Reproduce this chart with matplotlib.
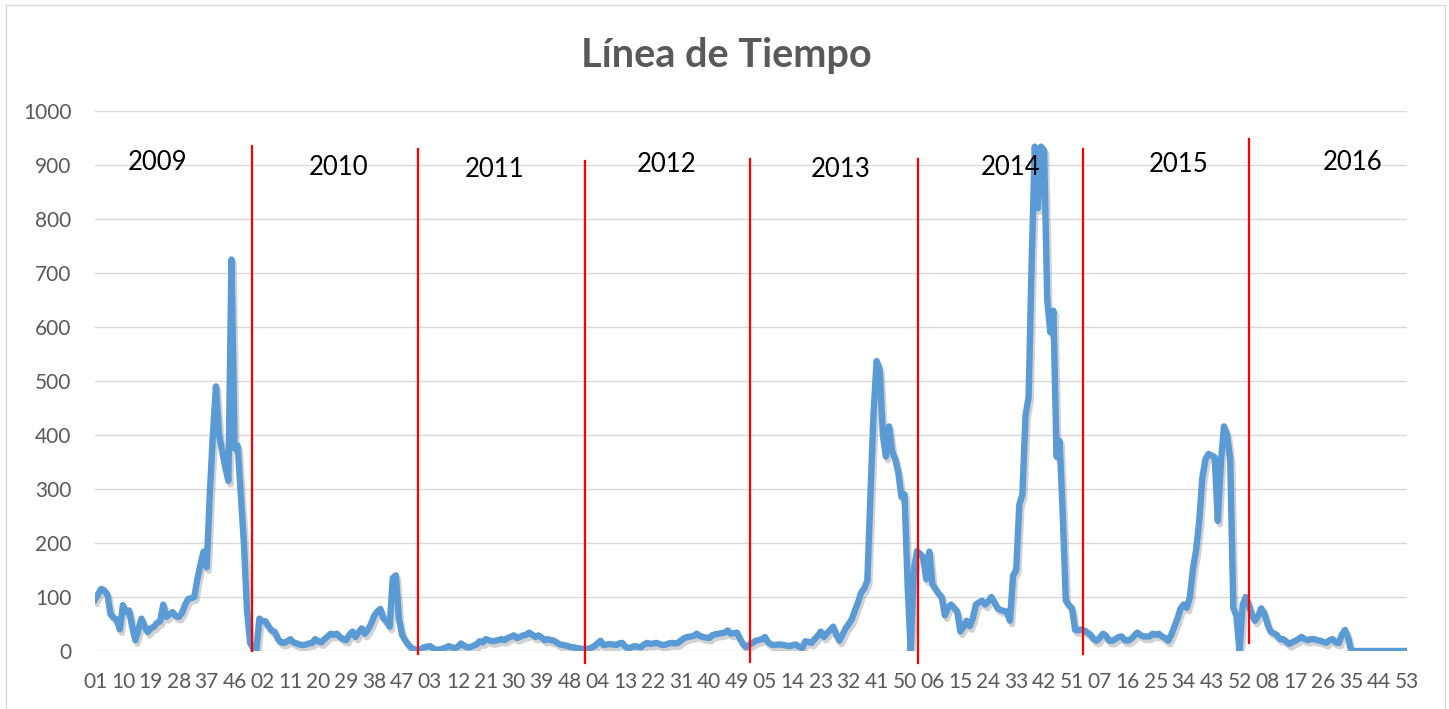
import numpy as np
import matplotlib
matplotlib.use("Agg")
import matplotlib.pyplot as plt
import matplotlib.patheffects as pe
from matplotlib.patches import Rectangle

# semanas epidemiologicas, 53 por anio
years = [2009, 2010, 2011, 2012, 2013, 2014, 2015, 2016]
weeks_per_year = 53

w2009 = [95, 105, 115, 112, 105, 68, 62, 58, 40, 85, 72, 75, 45, 20, 40, 60, 45, 35,
         42, 45, 52, 55, 86, 63, 68, 72, 65, 63, 70, 85, 96, 98, 100, 133, 160, 184,
         155, 290, 400, 490, 400, 370, 340, 315, 725, 375, 380, 290, 200, 75, 15, 5, 0]
w2010 = [60, 55, 55, 45, 38, 35, 22, 16, 15, 18, 22, 16, 14, 12, 11, 12, 14, 15, 22,
         18, 16, 22, 27, 32, 30, 32, 26, 22, 20, 30, 36, 26, 35, 42, 32, 40, 50, 65,
         73, 78, 60, 55, 45, 135, 140, 60, 30, 20, 12, 6, 3, 2, 3]
w2011 = [7, 8, 9, 5, 2, 3, 4, 6, 9, 7, 5, 8, 14, 10, 7, 7, 10, 12, 18, 16, 22, 20, 18,
         19, 20, 22, 20, 24, 26, 29, 24, 26, 29, 30, 34, 30, 26, 29, 25, 20, 22, 20,
         19, 15, 12, 11, 10, 8, 7, 6, 5, 4, 4]
w2012 = [4, 6, 9, 14, 19, 11, 12, 13, 12, 11, 14, 15, 8, 5, 7, 9, 8, 7, 12, 15, 13,
         14, 15, 13, 11, 12, 14, 15, 14, 15, 20, 24, 26, 27, 28, 32, 28, 26, 25, 24,
         29, 31, 32, 33, 34, 38, 32, 33, 34, 22, 12, 7, 12]
w2013 = [15, 19, 20, 22, 26, 16, 12, 11, 12, 12, 11, 10, 9, 11, 12, 8, 5, 18, 17, 15,
         22, 28, 36, 26, 33, 39, 45, 30, 19, 30, 42, 50, 59, 75, 90, 108, 116, 130,
         288, 440, 537, 520, 400, 360, 416, 370, 355, 330, 285, 290, 120, 0, 150]
w2014 = [185, 180, 174, 133, 184, 123, 115, 106, 100, 66, 80, 86, 80, 73, 36, 45, 56,
         46, 60, 86, 90, 93, 86, 92, 100, 90, 79, 76, 74, 73, 56, 140, 150, 271, 290,
         436, 470, 725, 934, 820, 934, 927, 650, 590, 630, 360, 389, 254, 93, 85, 79,
         39, 38]
w2015 = [40, 38, 34, 30, 22, 19, 25, 32, 28, 19, 19, 22, 26, 27, 20, 19, 22, 28, 34,
         30, 27, 27, 27, 32, 30, 32, 27, 24, 19, 30, 45, 60, 79, 86, 80, 100, 153, 187,
         240, 320, 355, 365, 362, 359, 241, 350, 416, 400, 355, 80, 65, 0, 85]
w2016 = [100, 85, 66, 56, 65, 79, 70, 50, 36, 33, 30, 22, 22, 18, 13, 16, 19, 22, 26,
         22, 20, 22, 22, 20, 19, 17, 15, 20, 22, 16, 15, 30, 39, 25, 0, 0, 0, 0, 0, 0,
         0, 0, 0, 0, 0, 0, 0, 0, 0, 0, 0, 0, 0]

values = w2009 + w2010 + w2011 + w2012 + w2013 + w2014 + w2015 + w2016
week_labels = ["%02d" % (w + 1) for y in years for w in range(weeks_per_year)]

# lineas rojas de separacion (dibujadas a mano en el original)
divider_x = [50.6, 104.2, 158.1, 211.3, 265.2, 318.7, 371.9]
divider_top = [935, 929, 907, 912, 912, 929, 949]
divider_bottom = [0, -5, -23, -20, -22, -5, 15]

# posicion de las etiquetas de anio
year_label_x = [20.3, 78.4, 129, 184.2, 240.3, 295.2, 349.4, 405.5]
year_label_y = [904, 896, 891, 900, 891, 896, 900, 904]

W, H = 1449, 709
fig = plt.figure(figsize=(W / 100, H / 100), dpi=100)
plt.rcParams['font.family'] = ['Lato', 'DejaVu Sans']

ax = fig.add_axes([95 / W, (H - 651) / H, (1407 - 95) / W, (651 - 111) / H])

x = np.arange(len(values))
ax.plot(x, values, color='#5B9BD5', lw=4.6, solid_joinstyle='round', zorder=3,
        path_effects=[pe.SimpleLineShadow(offset=(1.5, -2.5), shadow_color='#7f7f7f', alpha=0.35),
                      pe.Normal()])

for xd, t, b in zip(divider_x, divider_top, divider_bottom):
    ax.plot([xd, xd], [b, t], color='#FF0000', lw=1.6, zorder=4, clip_on=False)

for yr, xt, yt in zip(years, year_label_x, year_label_y):
    ax.text(xt, yt, str(yr), fontsize=18.5, color='black', ha='center', va='center')

ax.set_xlim(0, len(values) - 1)
ax.set_ylim(0, 1000)
ax.set_yticks(np.arange(0, 1001, 100))
ax.set_xticks(x[::9])
ax.set_xticklabels(week_labels[::9])
ax.grid(axis='y', color='#D9D9D9', lw=1)
ax.set_axisbelow(True)
for s in ax.spines.values():
    s.set_visible(False)
ax.tick_params(axis='both', length=0, labelsize=15, labelcolor='#595959')
ax.tick_params(axis='y', pad=17)
ax.tick_params(axis='x', pad=15)

fig.text(726 / W, 1 - 55 / H, 'Línea de Tiempo', fontsize=28.5, fontweight='bold',
         color='#595959', ha='center', va='center')

fig.patches.append(Rectangle((6 / W, -0.01), (1445 - 6) / W, 1.01 - 5 / H,
                             transform=fig.transFigure, fill=False,
                             edgecolor='#D9D9D9', lw=1))

fig.savefig('out.png', dpi=100)
